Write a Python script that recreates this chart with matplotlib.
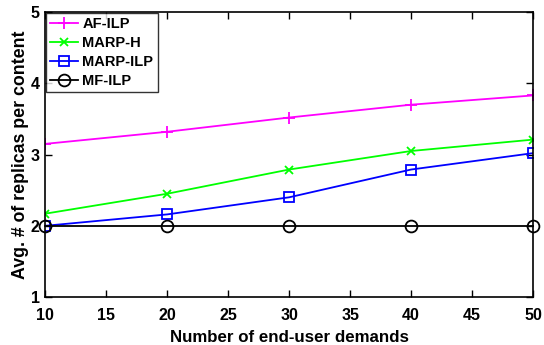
import numpy as np
import matplotlib
matplotlib.use('Agg')
import matplotlib.pyplot as plt

# demand counts on the x axis
demands = [10, 20, 30, 40, 50]
# average number of replicas per content for each scheme
af_ilp = [3.15, 3.32, 3.52, 3.70, 3.83]
marp_h = [2.17, 2.45, 2.79, 3.05, 3.21]
marp_ilp = [2.00, 2.16, 2.40, 2.79, 3.02]
mf_ilp = [2.00, 2.00, 2.00, 2.00, 2.00]

plt.rcParams['font.family'] = ['Liberation Sans', 'DejaVu Sans']
plt.rcParams['font.weight'] = 'bold'

fig = plt.figure(figsize=(5.44, 3.45), dpi=100)
ax = fig.add_axes([0.083, 0.139, 0.897, 0.826])

ax.plot(demands, af_ilp, color='#ff00ff', marker='+', markersize=8.5, mew=1.3, lw=1.3, label='AF-ILP')
ax.plot(demands, marp_h, color='#00ff00', marker='x', markersize=6, mew=1.3, lw=1.3, label='MARP-H')
ax.plot(demands, marp_ilp, color='#0000ff', marker='s', markersize=7, mfc='none', mew=1.3, lw=1.3,
        label='MARP-ILP')
ax.plot(demands, mf_ilp, color='black', marker='o', markersize=8.5, mfc='none', mew=1.3, lw=1.3,
        label='MF-ILP', clip_on=False)

ax.set_xlim(10, 50)
ax.set_ylim(1, 5)
ax.set_xticks(np.arange(10, 51, 5))
ax.set_yticks([1, 2, 3, 4, 5])
ax.tick_params(direction='in', top=True, right=True, labelsize=11.5, width=1, length=5)
ax.tick_params(axis='x', pad=8)
ax.tick_params(axis='y', pad=4)
for s in ax.spines.values():
    s.set_linewidth(1.2)
ax.set_xlabel('Number of end-user demands', fontsize=12.2, fontweight='bold', labelpad=5)
ax.set_ylabel('Avg. # of replicas per content', fontsize=12.8, fontweight='bold', labelpad=1)

leg = ax.legend(loc='upper left', fontsize=10.5, fancybox=False, edgecolor='black',
                borderaxespad=0.05, handlelength=1.9, handletextpad=0.3, labelspacing=0.33,
                borderpad=0.3)
leg.get_frame().set_linewidth(1.0)
for t in leg.get_texts():
    t.set_fontweight('bold')

fig.savefig('out.png', dpi=100)
